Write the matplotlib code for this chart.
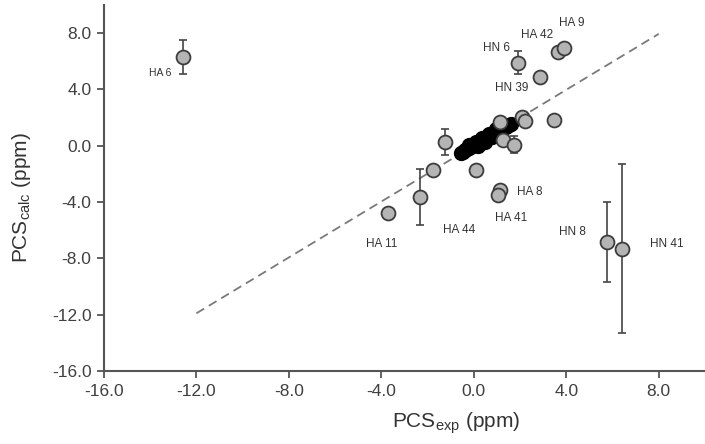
import matplotlib
matplotlib.use("Agg")
import matplotlib.pyplot as plt

plt.rcParams['font.family'] = ['Liberation Sans', 'DejaVu Sans']

# grey points (labelled / outliers)
gx = [-12.6, 1.9, 3.63, 3.89, 2.85, 1.12, 2.07, 2.2, 3.46, 1.25, 1.73, -1.25,
      -1.77, 0.09, -2.33, -3.71, 1.12, 1.04, 5.75, 6.39]
gy = [6.32, 5.9, 6.68, 6.96, 4.9, 1.7, 2.06, 1.78, 1.85, 0.43, 0.07, 0.28,
      -1.7, -1.7, -3.62, -4.76, -3.13, -3.48, -6.82, -7.32]
gerr = [1.2, 0.8, 0, 0, 0, 0, 0, 0, 0, 0, 0.6, 0.9,
        0, 0, 2.0, 0, 0, 0, 2.84, 6.0]

# black cluster of small shifts
bx = [-0.55, -0.45, -0.38, -0.3, -0.22, -0.15, -0.08, 0.0, 0.05, 0.12, 0.18, 0.25,
      0.3, 0.38, 0.45, 0.52, 0.6, 0.68, 0.75, 0.82, 0.9, 0.98, 1.05, 1.12, 1.2,
      1.3, 1.4, 1.5, 1.6, 0.2, 0.5, 0.8, 1.1, 0.35, 0.65, 0.95, -0.2, 0.1]
by = [-0.5, -0.42, -0.3, -0.25, -0.15, -0.1, 0.0, 0.05, 0.1, 0.15, 0.25, 0.28,
      0.35, 0.4, 0.5, 0.55, 0.6, 0.7, 0.75, 0.85, 0.9, 1.0, 1.05, 1.1, 1.2,
      1.3, 1.35, 1.45, 1.55, 0.0, 0.3, 0.6, 0.9, 0.55, 0.85, 1.2, 0.05, 0.3]

# labels: text, x, y, ha
labels = [("HA 6", -13.1, 5.18, "right"), ("HN 6", 1.56, 6.96, "right"),
          ("HA 42", 2.72, 7.88, "center"), ("HA 9", 4.23, 8.73, "center"),
          ("HN 39", 1.64, 4.12, "center"), ("HA 8", 1.86, -3.27, "left"),
          ("HA 41", 1.6, -5.11, "center"), ("HA 44", -0.65, -5.97, "center"),
          ("HA 11", -4.0, -6.96, "center"), ("HN 8", 4.28, -6.1, "center"),
          ("HN 41", 8.34, -6.96, "center")]

fig = plt.figure(figsize=(7.05, 4.44), dpi=100)
ax = fig.add_axes([0.1475, 0.1644, 0.8525, 0.8243])

ax.plot([-12, 8], [-11.9, 7.95], ls=(0, (5, 3)), color="#7a7a7a", lw=1.3, zorder=1)

for x, y, e in zip(gx, gy, gerr):
    if e > 0:
        ax.errorbar(x, y, yerr=e, fmt="none", ecolor="#444444", elinewidth=1.2,
                    capsize=3, capthick=1.2, zorder=2)

ax.plot(bx, by, "o", ms=10, mfc="black", mec="black", zorder=3)
ax.plot(gx, gy, "o", ms=10, mfc="#b4b4b4", mec="#3c3c3c", mew=1.3, zorder=4)

for t, x, y, ha in labels:
    fs = 7.5 if t == "HA 6" else 8.5
    ax.text(x, y, t, fontsize=fs, ha=ha, va="center", color="#333333")

ax.set_xlim(-16, 10)
ax.set_ylim(-16, 10)
ticks = [-16, -12, -8, -4, 0, 4, 8]
ax.set_xticks(ticks)
ax.set_yticks(ticks)
ax.set_xticklabels([f"{t:.1f}" for t in ticks])
ax.set_yticklabels([f"{t:.1f}" for t in ticks])

for s in ["top", "right"]:
    ax.spines[s].set_visible(False)
for s in ["left", "bottom"]:
    ax.spines[s].set_color("#555555")
    ax.spines[s].set_linewidth(1.5)
ax.tick_params(direction="out", length=5, width=1.3, color="#555555",
               labelsize=12.5, labelcolor="#404040", pad=4)

ax.set_xlabel("PCS$_{\\mathregular{exp}}$ (ppm)", fontsize=15, color="#333333")
ax.set_ylabel("PCS$_{\\mathregular{calc}}$ (ppm)", fontsize=15, color="#333333")
ax.xaxis.set_label_coords(0.586, -0.108)
ax.yaxis.set_label_coords(-0.118, 0.475)

fig.savefig("out.png", dpi=100)
